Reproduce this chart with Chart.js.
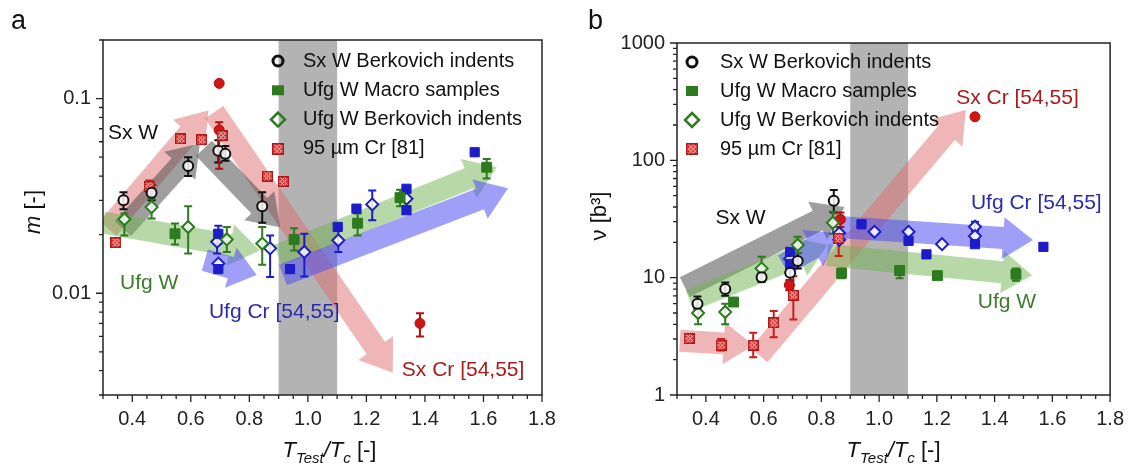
<!DOCTYPE html>
<html>
<head>
<meta charset="utf-8">
<script src="https://cdn.jsdelivr.net/npm/chart.js@4.4.0/dist/chart.umd.min.js"></script>
<style>
  body { margin: 0; background: #fff; width: 1136px; height: 471px; overflow: hidden; position: relative; }
  .panel { position: absolute; top: 0; width: 568px; height: 471px; }
</style>
</head>
<body>
<div class="panel" style="left:0"><canvas id="chartA" width="568" height="471"></canvas></div>
<div class="panel" style="left:568px"><canvas id="chartB" width="568" height="471"></canvas></div>
<script>
// axis ticks
const xMajor = [0.4, 0.6, 0.8, 1.0, 1.2, 1.4, 1.6, 1.8]
const yMajorA = [0.01, 0.1]
const yMajorB = [1, 10, 100, 1000]
const band = [0.9, 1.1]

// ---- panel a : m [-] ----
const aSxW_x  = [0.370, 0.466, 0.591, 0.694, 0.718, 0.844]
const aSxW_y  = [0.030, 0.0328, 0.045, 0.054, 0.052, 0.028]
const aSxW_lo = [0.027, 0.030, 0.040, 0.047, 0.048, 0.023]
const aSxW_hi = [0.033, 0.036, 0.050, 0.061, 0.057, 0.033]

const aUfgMac_x  = [0.546, 0.953, 1.170, 1.315, 1.611]
const aUfgMac_y  = [0.0202, 0.0189, 0.0229, 0.031, 0.0444]
const aUfgMac_lo = [0.0178, 0.0166, 0.0198, 0.028, 0.0388]
const aUfgMac_hi = [0.0228, 0.0216, 0.0257, 0.034, 0.049]

const aUfgBer_x  = [0.373, 0.466, 0.591, 0.723, 0.844]
const aUfgBer_y  = [0.024, 0.0277, 0.0219, 0.0189, 0.018]
const aUfgBer_lo = [0.0198, 0.0242, 0.016, 0.0163, 0.014]
const aUfgBer_hi = [0.0257, 0.0307, 0.028, 0.0219, 0.0219]

const aCr95_x  = [0.344, 0.458, 0.565, 0.637, 0.707, 0.862, 0.916]
const aCr95_y  = [0.0182, 0.0354, 0.0621, 0.0614, 0.0646, 0.040, 0.0375]
const aCr95_lo = [null, 0.033, null, null, null, null, null]
const aCr95_hi = [null, 0.038, null, null, null, null, null]

const aSxCr_x  = [0.697, 0.697, 1.383]
const aSxCr_y  = [0.069, 0.1197, 0.0070]
const aSxCr_lo = [0.0436, null, 0.0060]
const aSxCr_hi = [0.0756, null, 0.0079]

const aUfgCrSq_x  = [0.694, 0.694, 0.939, 1.102, 1.166, 1.337, 1.337, 1.570]
const aUfgCrSq_y  = [0.0202, 0.0133, 0.0133, 0.0219, 0.0272, 0.0344, 0.0267, 0.053]
const aUfgCrSq_lo = [0.0180, null, null, null, null, null, null, null]
const aUfgCrSq_hi = [0.0222, null, null, null, null, null, null, null]

const aUfgCrDi_x  = [0.690, 0.694, 0.871, 0.988, 1.104, 1.220, 1.337]
const aUfgCrDi_y  = [0.0184, 0.0142, 0.017, 0.0163, 0.0187, 0.0286, 0.0306]
const aUfgCrDi_lo = [0.016, null, 0.0121, 0.0122, 0.0163, 0.0237, null]
const aUfgCrDi_hi = [0.021, null, 0.0198, 0.0202, 0.0216, 0.0337, null]

// arrows [x1, y1, x2, y2]
const aArrows = [
  [0.317, 0.0215, 0.660, 0.0868],
  [0.680, 0.0850, 1.290, 0.0039],
  [0.368, 0.0215, 0.631, 0.0588],
  [0.645, 0.0555, 0.905, 0.0218],
  [0.300, 0.0231, 0.836, 0.0166],
  [0.898, 0.0157, 1.645, 0.0444],
  [0.648, 0.0148, 0.825, 0.0124],
  [0.915, 0.0124, 1.684, 0.0346]
]
const aNotes = ['Sx W', 'Ufg W', 'Ufg Cr [54,55]', 'Sx Cr [54,55]']
const aNotes_x = [0.317, 0.358, 0.662, 1.321]
const aNotes_y = [0.0662, 0.01125, 0.0080, 0.00403]

// ---- panel b : v [b3] ----
const bSxW_x  = [0.371, 0.467, 0.593, 0.692, 0.718, 0.843]
const bSxW_y  = [6.0, 8.0, 10.1, 11.0, 13.9, 45.3]
const bSxW_lo = [5.4, 7.0, 9.2, 9.5, 12.0, 36]
const bSxW_hi = [6.9, 9.1, 11.0, 17, 16.2, 56]

const bUfgMac_x  = [0.496, 0.870, 1.071, 1.202, 1.474]
const bUfgMac_y  = [6.2, 10.9, 11.5, 10.4, 10.7]
const bUfgMac_lo = [null, 9.9, 9.9, null, 9.4]
const bUfgMac_hi = [null, 12, 12.5, null, 12]

const bUfgBer_x  = [0.373, 0.467, 0.593, 0.718, 0.840]
const bUfgBer_y  = [5.0, 5.1, 12.0, 19.0, 29.4]
const bUfgBer_lo = [4.0, 4.0, 9.3, 16.2, 23.7]
const bUfgBer_hi = [5.8, 6.0, 15.1, 22.3, 36.5]

const bCr95_x  = [0.342, 0.453, 0.564, 0.635, 0.703, 0.860]
const bCr95_y  = [3.03, 2.66, 2.66, 4.12, 7.1, 21.6]
const bCr95_lo = [null, 2.4, 2.1, 3.1, 4.4, 15.3]
const bCr95_hi = [null, 3.0, 3.4, 5.2, 10.3, 27]

const bSxCr_x  = [0.689, 0.866, 1.332]
const bSxCr_y  = [8.65, 31.4, 235]
const bSxCr_lo = [7.8, 27, null]
const bSxCr_hi = [9.5, 36, null]

const bUfgCrSq_x  = [0.692, 0.692, 0.939, 1.102, 1.164, 1.332, 1.569]
const bUfgCrSq_y  = [16.6, 13.1, 28.5, 20.6, 15.8, 19.3, 18.3]
const bUfgCrSq_lo = [null, null, null, null, null, null, null]
const bUfgCrSq_hi = [null, null, null, null, null, null, null]

const bUfgCrDi_x  = [0.692, 0.862, 0.862, 0.984, 1.102, 1.218, 1.332, 1.332]
const bUfgCrDi_y  = [14.5, 23.9, 21.0, 24.6, 24.6, 19.3, 27.2, 22.6]
const bUfgCrDi_lo = [null, null, null, null, null, null, 25, null]
const bUfgCrDi_hi = [null, null, null, null, null, null, 30, null]

const bArrows = [
  [0.310, 2.9, 0.566, 2.66],
  [0.584, 2.19, 1.300, 268],
  [0.327, 8.3, 0.880, 40],
  [0.344, 6.4, 0.820, 19],
  [0.820, 15.6, 1.530, 10.5],
  [0.669, 12.8, 0.860, 24],
  [0.860, 27, 1.533, 20.9]
]
const bNotes = ['Sx W', 'Sx Cr [54,55]', 'Ufg Cr [54,55]', 'Ufg W']
const bNotes_x = [0.433, 1.267, 1.318, 1.342]
const bNotes_y = [32.2, 339, 43.3, 6.2]

const legendLabels = ['Sx W Berkovich indents', 'Ufg W Macro samples', 'Ufg W Berkovich indents', '95 \u00b5m Cr [81]']

// ---------- styling helpers ----------
const FONT = 'Arial, "Liberation Sans", sans-serif'
const BLACK = '#111111', GREEN = '#2d7a1f', BLUE = '#1c1cc8', RED = '#c81e1e'
const ARROW = {
  red: 'rgba(222,110,110,0.5)',
  gray: 'rgba(80,80,80,0.55)',
  green: 'rgba(110,180,80,0.5)',
  blue: 'rgba(80,80,240,0.55)'
}

function pts(xs, ys) {
  return xs.map((x, i) => ({ x: x, y: ys[i] }))
}

// red square with white crosshatch, like the 95 um Cr marker
function hatchMarker(size) {
  const c = document.createElement('canvas')
  c.width = size; c.height = size
  const g = c.getContext('2d')
  g.fillStyle = '#d42a2a'
  g.fillRect(0, 0, size, size)
  g.strokeStyle = 'rgba(255,235,235,0.9)'
  g.lineWidth = 1
  for (let k = -size; k < size * 2; k += 4) {
    g.beginPath(); g.moveTo(k, 0); g.lineTo(k + size, size); g.stroke()
    g.beginPath(); g.moveTo(k, size); g.lineTo(k + size, 0); g.stroke()
  }
  g.strokeStyle = '#b01818'
  g.lineWidth = 1.5
  g.strokeRect(0.75, 0.75, size - 1.5, size - 1.5)
  return c
}
const hatch = hatchMarker(11)

function drawArrow(ctx, x1, y1, x2, y2, color) {
  const dx = x2 - x1, dy = y2 - y1, len = Math.hypot(dx, dy)
  const ux = dx / len, uy = dy / len, nx = -uy, ny = ux
  const w = 11, hw = 21, hl = Math.min(30, len * 0.5)
  const bx = x2 - ux * hl, by = y2 - uy * hl
  ctx.beginPath()
  ctx.moveTo(x1 + nx * w, y1 + ny * w)
  ctx.lineTo(bx + nx * w, by + ny * w)
  ctx.lineTo(bx + nx * hw, by + ny * hw)
  ctx.lineTo(x2, y2)
  ctx.lineTo(bx - nx * hw, by - ny * hw)
  ctx.lineTo(bx - nx * w, by - ny * w)
  ctx.lineTo(x1 - nx * w, y1 - ny * w)
  ctx.closePath()
  ctx.fillStyle = color
  ctx.fill()
}

function marker(ctx, type, x, y) {
  ctx.save()
  if (type === 'circle') {
    ctx.strokeStyle = BLACK; ctx.lineWidth = 3
    ctx.beginPath(); ctx.arc(x, y, 5, 0, Math.PI * 2); ctx.stroke()
  } else if (type === 'square') {
    ctx.fillStyle = GREEN; ctx.fillRect(x - 6, y - 5, 12, 10)
  } else if (type === 'diamond') {
    ctx.strokeStyle = GREEN; ctx.lineWidth = 2.5
    ctx.beginPath(); ctx.moveTo(x, y - 7); ctx.lineTo(x + 7, y); ctx.lineTo(x, y + 7); ctx.lineTo(x - 7, y); ctx.closePath(); ctx.stroke()
  } else {
    ctx.drawImage(hatch, x - 6, y - 6, 12, 12)
  }
  ctx.restore()
}

// draws band, arrows, error bars, frame, ticks, legend, notes and titles
function makeDecor(cfg) {
  return {
    id: 'decor',
    beforeDatasetsDraw(chart) {
      const { ctx, chartArea: a, scales: { x, y } } = chart
      ctx.save()
      ctx.beginPath(); ctx.rect(a.left, a.top, a.right - a.left, a.bottom - a.top); ctx.clip()
      const b1 = x.getPixelForValue(band[0]), b2 = x.getPixelForValue(band[1])
      ctx.fillStyle = '#b3b3b3'
      ctx.fillRect(b1, a.top, b2 - b1, a.bottom - a.top)
      cfg.arrows.forEach((ar, i) => {
        drawArrow(ctx, x.getPixelForValue(ar[0]), y.getPixelForValue(ar[1]),
          x.getPixelForValue(ar[2]), y.getPixelForValue(ar[3]), cfg.arrowColors[i])
      })
      chart.data.datasets.forEach(ds => {
        if (!ds.errLo) return
        ctx.strokeStyle = ds.errColor
        ctx.lineWidth = 2
        ds.data.forEach((p, i) => {
          const lo = ds.errLo[i], hi = ds.errHi[i]
          if (lo == null || hi == null) return
          const px = x.getPixelForValue(p.x), y1 = y.getPixelForValue(lo), y2 = y.getPixelForValue(hi)
          ctx.beginPath()
          ctx.moveTo(px, y1); ctx.lineTo(px, y2)
          ctx.moveTo(px - 4, y1); ctx.lineTo(px + 4, y1)
          ctx.moveTo(px - 4, y2); ctx.lineTo(px + 4, y2)
          ctx.stroke()
        })
      })
      ctx.restore()
    },
    afterDraw(chart) {
      const { ctx, chartArea: a, scales: { x, y } } = chart
      ctx.save()
      ctx.strokeStyle = '#222'
      ctx.lineWidth = 1.5
      ctx.strokeRect(a.left, a.top, a.right - a.left, a.bottom - a.top)
      ctx.lineWidth = 1.3
      ctx.beginPath()
      for (let i = 6; i <= 36; i++) {
        const px = x.getPixelForValue(i * 0.05)
        const L = i % 4 === 0 ? 7 : 4
        ctx.moveTo(px, a.bottom); ctx.lineTo(px, a.bottom + L)
      }
      const d0 = Math.floor(Math.log10(y.min)), d1 = Math.ceil(Math.log10(y.max))
      for (let d = d0; d <= d1; d++) {
        for (let k = 1; k <= 9; k++) {
          const v = k * Math.pow(10, d)
          if (v < y.min * 0.999 || v > y.max * 1.001) continue
          const py = y.getPixelForValue(v)
          const L = k === 1 ? 7 : 4
          ctx.moveTo(a.left - L, py); ctx.lineTo(a.left, py)
        }
      }
      ctx.stroke()

      // legend
      ctx.font = '20px ' + FONT
      ctx.fillStyle = '#111'
      ctx.textBaseline = 'middle'
      ctx.textAlign = 'left'
      const types = ['circle', 'square', 'diamond', 'hatch']
      legendLabels.forEach((lab, i) => {
        const ry = a.top + cfg.legend.top + i * cfg.legend.step
        marker(ctx, types[i], a.left + cfg.legend.mx, ry)
        ctx.fillStyle = '#111'
        ctx.fillText(lab, a.left + cfg.legend.tx, ry)
      })

      // notes on the plot
      ctx.font = '21px ' + FONT
      cfg.notes.forEach((t, i) => {
        ctx.fillStyle = cfg.noteColors[i]
        ctx.fillText(t, x.getPixelForValue(cfg.notesX[i]), y.getPixelForValue(cfg.notesY[i]))
      })

      // x title: T_Test / T_c [-]
      const parts = [
        ['T', 'italic 22px ', 0], ['Test', 'italic 15px ', 6], ['/', 'italic 22px ', 0],
        ['T', 'italic 22px ', 0], ['c', 'italic 15px ', 6], [' [-]', '22px ', 0]
      ]
      let total = 0
      parts.forEach(p => { ctx.font = p[1] + FONT; total += ctx.measureText(p[0]).width })
      let cx = (a.left + a.right) / 2 + cfg.xTitleShift - total / 2
      const by = a.bottom + 62
      ctx.fillStyle = '#111'
      ctx.textBaseline = 'alphabetic'
      parts.forEach(p => {
        ctx.font = p[1] + FONT
        ctx.fillText(p[0], cx, by + p[2])
        cx += ctx.measureText(p[0]).width
      })

      // y title
      ctx.save()
      ctx.translate(cfg.yTitle.x, cfg.yTitle.y)
      ctx.rotate(-Math.PI / 2)
      let yw = 0
      cfg.yTitle.parts.forEach(p => { ctx.font = p[1] + FONT; yw += ctx.measureText(p[0]).width })
      let yx = -yw / 2
      ctx.textBaseline = 'middle'
      cfg.yTitle.parts.forEach(p => {
        ctx.font = p[1] + FONT
        ctx.fillText(p[0], yx, 0)
        yx += ctx.measureText(p[0]).width
      })
      ctx.restore()

      // panel letter
      ctx.font = '27px ' + FONT
      ctx.textBaseline = 'alphabetic'
      ctx.fillText(cfg.letter, cfg.letterX, 29)
      ctx.restore()
    }
  }
}

function datasets(p) {
  const mk = (xs, ys, lo, hi, style) => Object.assign({
    data: pts(xs, ys), errLo: lo, errHi: hi, showLine: false
  }, style)
  return [
    mk(p.sxwX, p.sxwY, p.sxwLo, p.sxwHi, { pointStyle: 'circle', pointRadius: 5, borderWidth: 2, borderColor: BLACK, backgroundColor: 'rgba(255,255,255,0.85)', errColor: BLACK }),
    mk(p.macX, p.macY, p.macLo, p.macHi, { pointStyle: 'rect', pointRadius: 7, borderWidth: 1, borderColor: GREEN, backgroundColor: GREEN, errColor: GREEN }),
    mk(p.berX, p.berY, p.berLo, p.berHi, { pointStyle: 'rectRot', pointRadius: 6, borderWidth: 2, borderColor: GREEN, backgroundColor: 'rgba(255,255,255,0.85)', errColor: GREEN }),
    mk(p.crX, p.crY, p.crLo, p.crHi, { pointStyle: hatch, pointRadius: 6, borderColor: RED, backgroundColor: RED, errColor: RED }),
    mk(p.sxcrX, p.sxcrY, p.sxcrLo, p.sxcrHi, { pointStyle: 'circle', pointRadius: 5, borderWidth: 1, borderColor: '#b01010', backgroundColor: '#d01515', errColor: '#b01010' }),
    mk(p.sqX, p.sqY, p.sqLo, p.sqHi, { pointStyle: 'rect', pointRadius: 6.5, borderWidth: 1, borderColor: BLUE, backgroundColor: BLUE, errColor: BLUE }),
    mk(p.diX, p.diY, p.diLo, p.diHi, { pointStyle: 'rectRot', pointRadius: 6, borderWidth: 2, borderColor: BLUE, backgroundColor: 'rgba(255,255,255,0.85)', errColor: BLUE })
  ]
}

function makeChart(id, p, yMin, yMax, yMajor, yWidth, pad, decor) {
  return new Chart(document.getElementById(id), {
    type: 'scatter',
    data: { datasets: datasets(p) },
    options: {
      responsive: false,
      animation: false,
      devicePixelRatio: 1,
      layout: { padding: pad },
      plugins: { legend: { display: false }, tooltip: { enabled: false } },
      scales: {
        x: {
          type: 'linear', min: 0.3, max: 1.8,
          afterBuildTicks: s => { s.ticks = xMajor.map(v => ({ value: v })) },
          afterFit: s => { s.height = 76 },
          grid: { display: false, drawTicks: false },
          border: { display: false },
          ticks: { padding: 12, color: '#222', font: { size: 20, family: FONT }, callback: v => v.toFixed(1), maxRotation: 0 }
        },
        y: {
          type: 'logarithmic', min: yMin, max: yMax,
          afterBuildTicks: s => { s.ticks = yMajor.map(v => ({ value: v })) },
          afterFit: s => { s.width = yWidth },
          grid: { display: false, drawTicks: false },
          border: { display: false },
          ticks: { padding: 12, color: '#222', font: { size: 20, family: FONT }, callback: v => String(v) }
        }
      }
    },
    plugins: [makeDecor(decor)]
  })
}

const arrowColorsA = [ARROW.red, ARROW.red, ARROW.gray, ARROW.gray, ARROW.green, ARROW.green, ARROW.blue, ARROW.blue]
const arrowColorsB = [ARROW.red, ARROW.red, ARROW.gray, ARROW.green, ARROW.green, ARROW.blue, ARROW.blue]

makeChart('chartA', {
  sxwX: aSxW_x, sxwY: aSxW_y, sxwLo: aSxW_lo, sxwHi: aSxW_hi,
  macX: aUfgMac_x, macY: aUfgMac_y, macLo: aUfgMac_lo, macHi: aUfgMac_hi,
  berX: aUfgBer_x, berY: aUfgBer_y, berLo: aUfgBer_lo, berHi: aUfgBer_hi,
  crX: aCr95_x, crY: aCr95_y, crLo: aCr95_lo, crHi: aCr95_hi,
  sxcrX: aSxCr_x, sxcrY: aSxCr_y, sxcrLo: aSxCr_lo, sxcrHi: aSxCr_hi,
  sqX: aUfgCrSq_x, sqY: aUfgCrSq_y, sqLo: aUfgCrSq_lo, sqHi: aUfgCrSq_hi,
  diX: aUfgCrDi_x, diY: aUfgCrDi_y, diLo: aUfgCrDi_lo, diHi: aUfgCrDi_hi
}, 0.003, 0.2, yMajorA, 103, { left: 0, top: 40, right: 26, bottom: 0 }, {
  arrows: aArrows, arrowColors: arrowColorsA,
  notes: aNotes, notesX: aNotes_x, notesY: aNotes_y,
  noteColors: ['#111', '#3b7d2a', '#2a2ab0', '#a81c1c'],
  legend: { top: 21, step: 29.3, mx: 175, tx: 200 },
  xTitleShift: 7,
  yTitle: { x: 34, y: 212, parts: [['m', 'italic 22px '], [' [-]', '22px ']] },
  letter: 'a', letterX: 11
})

makeChart('chartB', {
  sxwX: bSxW_x, sxwY: bSxW_y, sxwLo: bSxW_lo, sxwHi: bSxW_hi,
  macX: bUfgMac_x, macY: bUfgMac_y, macLo: bUfgMac_lo, macHi: bUfgMac_hi,
  berX: bUfgBer_x, berY: bUfgBer_y, berLo: bUfgBer_lo, berHi: bUfgBer_hi,
  crX: bCr95_x, crY: bCr95_y, crLo: bCr95_lo, crHi: bCr95_hi,
  sxcrX: bSxCr_x, sxcrY: bSxCr_y, sxcrLo: bSxCr_lo, sxcrHi: bSxCr_hi,
  sqX: bUfgCrSq_x, sqY: bUfgCrSq_y, sqLo: bUfgCrSq_lo, sqHi: bUfgCrSq_hi,
  diX: bUfgCrDi_x, diY: bUfgCrDi_y, diLo: bUfgCrDi_lo, diHi: bUfgCrDi_hi
}, 1, 1000, yMajorB, 109, { left: 0, top: 43, right: 20, bottom: 0 }, {
  arrows: bArrows, arrowColors: arrowColorsB,
  notes: bNotes, notesX: bNotes_x, notesY: bNotes_y,
  noteColors: ['#111', '#a81c1c', '#2a2ab0', '#3b7d2a'],
  legend: { top: 19, step: 29, mx: 15, tx: 43 },
  xTitleShift: 0,
  yTitle: { x: 32, y: 216, parts: [['\u03bd', '22px '], [' [b\u00b3]', '22px ']] },
  letter: 'b', letterX: 20
})
</script>
</body>
</html>
